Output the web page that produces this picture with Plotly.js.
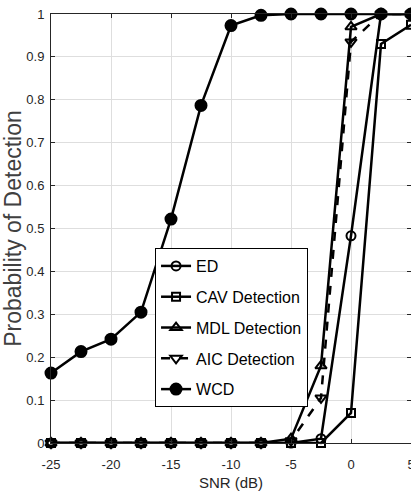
<!DOCTYPE html>
<html>
<head>
<meta charset="utf-8">
<script src="https://cdn.plot.ly/plotly-3.0.1.min.js"></script>
<style>html,body{margin:0;padding:0;background:#fff;}#chart{width:411px;height:499px;}</style>
</head>
<body>
<div id="chart"></div>
<script>
var snr = [-25, -22.5, -20, -17.5, -15, -12.5, -10, -7.5, -5, -2.5, 0, 2.5, 5];
var ed  = [0, 0, 0, 0, 0, 0, 0, 0, 0, 0.01, 0.483, 1, 1];
var cav = [0, 0, 0, 0, 0, 0, 0, 0, 0, 0, 0.07, 0.93, 0.975];
var mdl = [0, 0, 0, 0, 0, 0, 0, 0, 0.01, 0.18, 0.97, 1, 1];
var aic = [0, 0, 0, 0, 0, 0, 0, 0, 0.005, 0.105, 0.935, 1, 1];
var wcd = [0.163, 0.213, 0.242, 0.305, 0.522, 0.787, 0.973, 0.997, 1, 1, 1, 1, 1];
var names = ['ED', 'CAV Detection', 'MDL Detection', 'AIC Detection', 'WCD'];
var xTicks = [-25, -20, -15, -10, -5, 0, 5];
var yTicks = [0, 0.1, 0.2, 0.3, 0.4, 0.5, 0.6, 0.7, 0.8, 0.9, 1];
var yTickText = ['0', '0.1', '0.2', '0.3', '0.4', '0.5', '0.6', '0.7', '0.8', '0.9', '1'];

var FONT = "'Liberation Sans', Arial, sans-serif";

function tr(y, name, sym, dash, size, i) {
  return {
    x: snr, y: y, name: name, type: 'scatter', mode: 'lines+markers',
    cliponaxis: false, legendgroup: 'g' + i,
    line: {color: '#000', width: 2.5, dash: dash},
    marker: {symbol: sym, size: size, color: '#000', line: {color: '#000', width: 2}}
  };
}
var data = [
  tr(ed, names[0], 'circle-open', 'solid', 9, 0),
  tr(cav, names[1], 'square-open', 'solid', 8, 1),
  tr(mdl, names[2], 'triangle-up-open', 'solid', 10, 2),
  tr(aic, names[3], 'triangle-down-open', 'dash', 10, 3),
  tr(wcd, names[4], 'circle', 'solid', 11, 4)
];
var axisFont = {family: FONT, size: 13, color: '#262626'};
var layout = {
  width: 411, height: 499,
  margin: {l: 51, r: 0, t: 14, b: 56},
  paper_bgcolor: '#fff', plot_bgcolor: '#fff',
  showlegend: true,
  xaxis: {
    range: [-25, 5], tickvals: xTicks, ticktext: xTicks.map(String),
    showgrid: true, gridcolor: '#dedede', gridwidth: 1, zeroline: false,
    showline: true, linecolor: '#262626', linewidth: 1, mirror: 'ticks',
    ticks: 'inside', ticklen: 4, tickcolor: '#262626',
    tickfont: axisFont, ticklabelstandoff: 9, ticklabeloverflow: 'allow',
    title: {text: 'SNR (dB)', font: {family: FONT, size: 15, color: '#262626'}, standoff: 6}
  },
  yaxis: {
    range: [0, 1], tickvals: yTicks, ticktext: yTickText,
    showgrid: true, gridcolor: '#dedede', gridwidth: 1, zeroline: false,
    showline: true, linecolor: '#262626', linewidth: 1, mirror: 'ticks',
    ticks: 'inside', ticklen: 4, tickcolor: '#262626',
    tickfont: axisFont, ticklabelstandoff: 3,
    title: {text: 'Probability of Detection', font: {family: FONT, size: 23, color: '#404040'}, standoff: 4}
  },
  legend: {
    x: 0.289, y: 0.4545, xanchor: 'left', yanchor: 'top',
    bgcolor: '#fff', bordercolor: '#000', borderwidth: 1,
    font: {family: FONT, size: 16, color: '#000'},
    itemwidth: 30, tracegroupgap: 7, traceorder: 'grouped'
  }
};
Plotly.newPlot('chart', data, layout, {displayModeBar: false, staticPlot: true});
</script>
</body>
</html>
